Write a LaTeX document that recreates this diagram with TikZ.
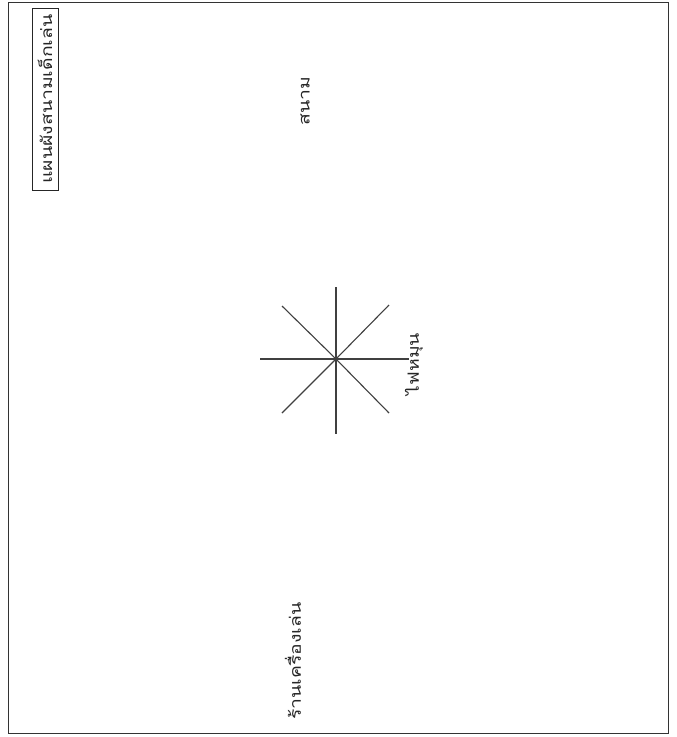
\documentclass[tikz,border=0pt]{standalone}
\usepackage{fontspec}
\newfontfamily\thaifont[Script=Thai]{Loma}
\newcommand{\stretchtext}[1]{\scalebox{1.25}[1]{#1}}
\tikzset{
  lbl/.style={font=\thaifont\fontsize{15.5}{18}\selectfont, inner sep=0pt, rotate=90, text=black!85},
  spoke/.style={draw=black!75, line width=1.1pt},
  frame/.style={draw=black!80, line width=0.9pt}
}
\begin{document}
\begin{tikzpicture}[x=1pt,y=-1pt]
\useasboundingbox (0,0) rectangle (677,737);
\fill[white] (0,0) rectangle (677,737);
% outer frame
\draw[frame] (8,2) rectangle (668,733);
% title box
\node[lbl, draw=black!85, line width=0.9pt, minimum width=182pt, minimum height=26pt] (title) at (45,99) {\stretchtext{แผนผังสนามเด็กเล่น}};
% labels
\node[lbl] (field) at (305,101) {\stretchtext{สนาม}};
\node[lbl] (spin) at (414,364) {\stretchtext{ไฟหมุน}};
\node[lbl] (shop) at (293,661) {\stretchtext{ร้านเครื่องเล่น}};
% star
\coordinate (c) at (336,359);
\coordinate (n) at (336,287);
\coordinate (s) at (336,434);
\coordinate (w) at (260,359);
\coordinate (e) at (409,359);
\coordinate (nw) at (282,306);
\coordinate (ne) at (389,305);
\coordinate (sw) at (282,413);
\coordinate (se) at (389,413);
\draw[spoke] (n) -- (c) -- (s);
\draw[spoke] (w) -- (c) -- (e);
\draw[spoke] (nw) -- (c) -- (se);
\draw[spoke] (ne) -- (c) -- (sw);
\end{tikzpicture}
\end{document}
